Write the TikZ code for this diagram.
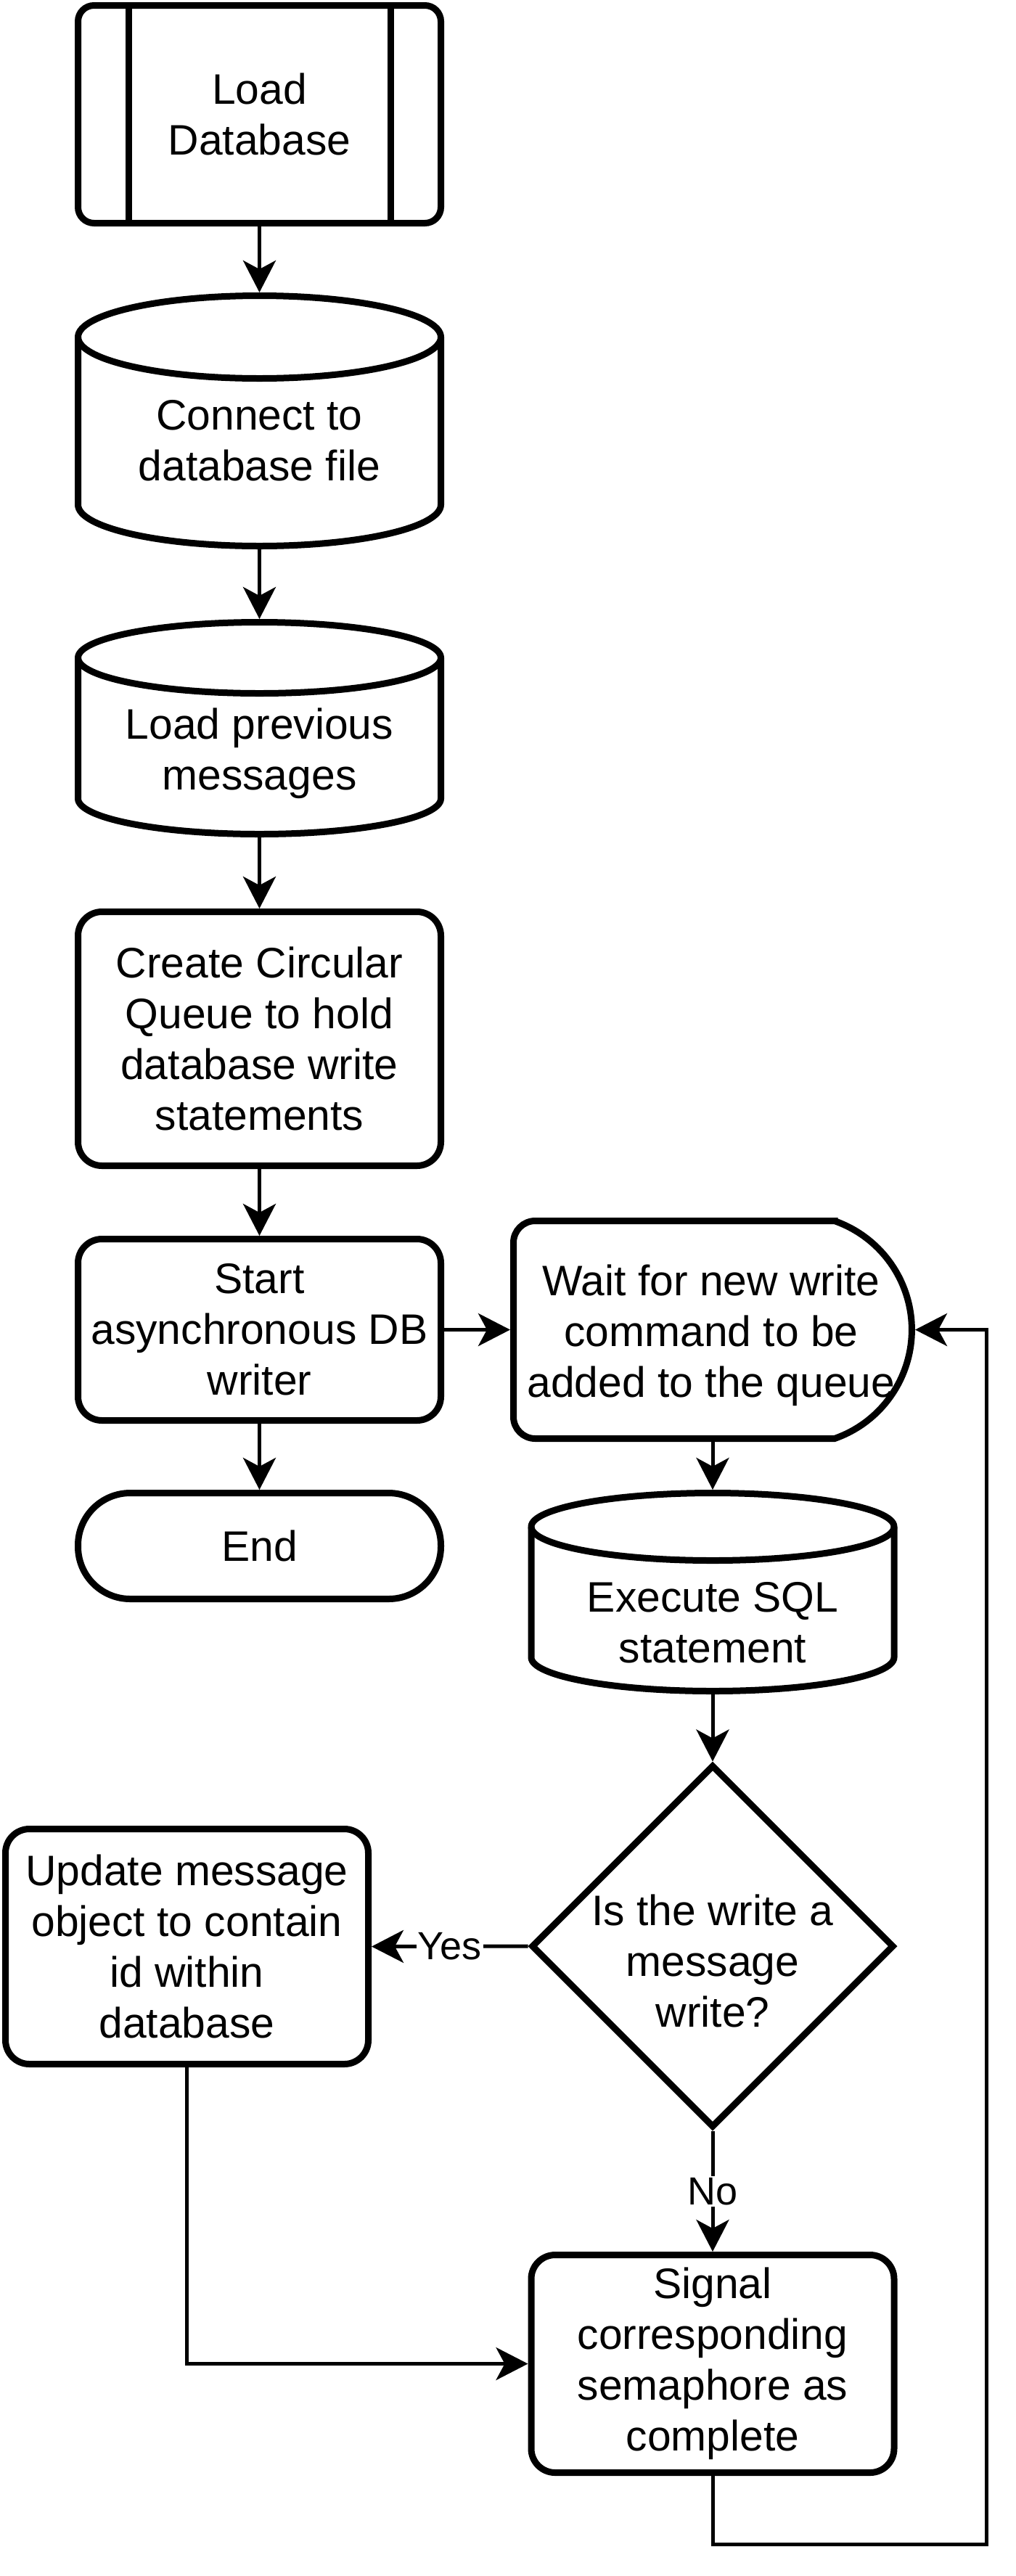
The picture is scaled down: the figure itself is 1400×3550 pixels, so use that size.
\documentclass[tikz,border=0pt]{standalone}
\usepackage{fontspec}
\setmainfont{Liberation Sans}
\usetikzlibrary{arrows.meta,shapes.geometric}
\newcommand\mainfnt{\fontsize{29.4}{35}\selectfont}
\newcommand\lblfnt{\fontsize{27}{32}\selectfont}
\newcommand{\drawcyl}[4]{%
  \draw[shapeline] (#1-250,#2+#4) arc[start angle=180,end angle=360,x radius=250,y radius=#4]
     -- (#1+250,#3-#4) arc[start angle=0,end angle=180,x radius=250,y radius=#4] -- cycle;
  \draw[line width=4.5pt] (#1-250,#2+#4) arc[start angle=180,end angle=0,x radius=250,y radius=#4];
}
\begin{document}
\begin{tikzpicture}[x=0.5pt,y=-0.5pt,
  box/.style={draw, line width=4.5pt, fill=white, rounded corners=16.5pt, inner sep=0pt,
              outer sep=2.25pt, align=center, font=\mainfnt, minimum width=250pt},
  frame/.style={inner sep=0pt, outer sep=2.25pt, minimum width=250pt},
  shapeline/.style={draw, line width=4.5pt, fill=white},
  txt/.style={inner sep=0pt, align=center, font=\mainfnt},
  conn/.style={line width=2.5pt, -{Stealth[length=22pt,width=22.5pt,inset=6pt]}},
  lbl/.style={fill=white, inner sep=1pt, font=\lblfnt}]
\fill[white] (0,0) rectangle (1400,3550);
\useasboundingbox (0,0) rectangle (1400,3550);

% Load Database (predefined process)
\node[box, rounded corners=11pt, minimum height=150pt] (load) at (357.5,157.5) {Load\\Database};
\draw[line width=4.5pt] (177,7.5) -- (177,307.5);
\draw[line width=4.5pt] (538,7.5) -- (538,307.5);

% Cylinder 1
\drawcyl{357.5}{407.5}{752.5}{57}
\node[frame, minimum height=172.5pt] (cyla) at (357.5,580) {};
\node[txt] (cylat) at (357.5,607) {Connect to\\database file};

% Cylinder 2
\drawcyl{357.5}{857.5}{1149.5}{49}
\node[frame, minimum height=146pt] (cylb) at (357.5,1003.5) {};
\node[txt] (cylbt) at (357.5,1038) {Load previous\\messages};

% Create queue
\node[box, minimum height=175pt] (create) at (357.5,1431.5) {Create Circular\\Queue to hold\\database write\\statements};

% Start writer
\node[box, minimum height=125pt] (start) at (357.5,1832.5) {Start\\asynchronous DB\\writer};

% End
\node[box, rounded corners=36pt, minimum height=73pt] (end) at (357.5,2130.5) {End};

% Wait (delay shape)
\draw[shapeline] (1150,1682.5) -- (737.5,1682.5) arc[start angle=270,end angle=180,radius=30]
   -- (707.5,1952.5) arc[start angle=180,end angle=90,radius=30]
   -- (1150,1982.5) arc[start angle=70.7,end angle=-70.7,radius=158.9] -- cycle;
\node[frame, minimum width=274.5pt, minimum height=150pt] (wait) at (982,1832.5) {};
\node[txt] (waitt) at (980,1840) {Wait for new write\\command to be\\added to the queue};

% Execute SQL cylinder
\drawcyl{982}{2057.5}{2330.5}{46.5}
\node[frame, minimum height=136.5pt] (exe) at (982,2194) {};
\node[txt] (exet) at (982,2236) {Execute SQL\\statement};

% Decision
\node[diamond, draw, line width=4.5pt, fill=white, aspect=1, inner sep=0pt, outer sep=2.25pt,
      minimum width=250pt, minimum height=250pt] (dec) at (982,2682) {};
\node[txt] (dect) at (982,2702) {Is the write a\\message\\write?};

% Update message
\node[box, minimum height=162pt] (upd) at (257.5,2682.5) {Update message\\object to contain\\id within\\database};

% Signal
\node[box, minimum height=150pt] (sig) at (982,3257.5) {Signal\\corresponding\\semaphore as\\complete};

\coordinate (loopA) at (1359,3506);

% Connectors
\draw[conn] (load.south) -- (cyla.north);
\draw[conn] (cyla.south) -- (cylb.north);
\draw[conn] (cylb.south) -- (create.north);
\draw[conn] (create.south) -- (start.north);
\draw[conn] (start.south) -- (end.north);
\draw[conn] (start.east) -- (wait.west);
\draw[conn] (wait.south) -- (exe.north);
\draw[conn] (exe.south) -- (dec.north);
\draw[conn] (dec.west) -- node[lbl] (yes) {Yes} (upd.east);
\draw[conn] (dec.south) -- node[lbl] (no) {No} (sig.north);
\draw[conn] (upd.south) |- (sig.west);
\draw[conn] (sig.south) |- (loopA) |- (wait.east);
\end{tikzpicture}
\end{document}
